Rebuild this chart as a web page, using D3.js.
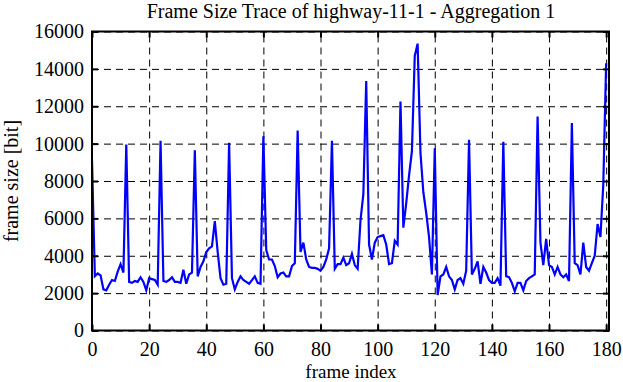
<!DOCTYPE html>
<html>
<head>
<meta charset="utf-8">
<script src="https://cdn.jsdelivr.net/npm/d3@7"></script>
<style>
  html, body { margin: 0; padding: 0; background: #fff; }
  svg { display: block; }
  text { font-family: "Liberation Serif", "DejaVu Serif", serif; }
</style>
</head>
<body>
<svg id="chart" width="623" height="382"></svg>
<script>
// ---- data ----
const titleText = "Frame Size Trace of highway-11-1 - Aggregation 1";
const xLabelText = "frame index";
const yLabelText = "frame size [bit]";
const xTicks = [0, 20, 40, 60, 80, 100, 120, 140, 160, 180];
const yTicks = [0, 2000, 4000, 6000, 8000, 10000, 12000, 14000, 16000];
// frame size (bit) per frame index 0..180
const frameSize = [
  9100, 2900, 3050, 2950, 2200, 2150, 2450, 2700, 2650, 3150,
  3550, 3100, 9950, 2600, 2550, 2650, 2600, 2850, 2600, 2150,
  2800, 2750, 2700, 2450, 10150, 2650, 2600, 2700, 2850, 2600,
  2600, 2550, 3250, 2500, 3000, 3100, 9650, 2900, 3400, 3700,
  4200, 4400, 4500, 5850, 4200, 2800, 2450, 2500, 10050, 2800,
  2200, 2600, 2900, 2700, 2600, 2500, 2700, 2900, 2550, 2500,
  10400, 4300, 3800, 3800, 3450, 2850, 3050, 3100, 2900, 2900,
  3450, 3600, 10700, 4200, 4700, 3800, 3400, 3350, 3350, 3300,
  3200, 3400, 3800, 4400, 10150, 3300, 3550, 3550, 3900, 3500,
  3600, 4100, 3500, 3300, 5900, 7300, 13350, 4600, 3800, 4700,
  5000, 5050, 5100, 4600, 3550, 3600, 4800, 4600, 12250, 5500,
  6800, 8300, 9600, 14700, 15350, 9500, 7400, 6300, 5000, 3000,
  9750, 1900, 2900, 3000, 3400, 2900, 2700, 2200, 2700, 2800,
  2500, 3200, 10200, 3000, 3300, 3700, 2500, 3400, 3100, 2700,
  2550, 2550, 2800, 2400, 10100, 2900, 2850, 2550, 2100, 2550,
  2550, 2150, 2650, 2800, 2900, 3000, 11450, 4700, 3500, 4900,
  3500, 3400, 3000, 3400, 3000, 2850, 3000, 2650, 11100, 3600,
  3500, 3000, 4700, 3400, 3200, 3600, 4000, 5700, 5000, 7800,
  14300
];

// ---- layout ----
const L = 92, R = 609, T = 31.5, B = 330.5;
const svg = d3.select("#chart");
const x = d3.scaleLinear().domain([0, 181]).range([L, R]);
const y = d3.scaleLinear().domain([0, 16000]).range([B, T]);
const font = '"Liberation Serif", "DejaVu Serif", serif';

// grid
const gx = svg.append("g").attr("transform", `translate(0,${B})`)
  .call(d3.axisBottom(x).tickValues(xTicks).tickSize(-(B - T)).tickFormat(""));
const gy = svg.append("g").attr("transform", `translate(${L},0)`)
  .call(d3.axisLeft(y).tickValues(yTicks).tickSize(-(R - L)).tickFormat(""));
[gx, gy].forEach(g => {
  g.select(".domain").remove();
  g.selectAll("line").attr("stroke", "#000").attr("stroke-width", 1)
    .attr("stroke-dasharray", "7,5");
});

// data line
const line = d3.line().x((d, i) => x(i)).y(d => y(d));
svg.append("path").datum(frameSize)
  .attr("d", line)
  .attr("fill", "none")
  .attr("stroke", "#0000ff")
  .attr("stroke-width", 2.2)
  .attr("stroke-linejoin", "miter");

// axes with inward ticks
const tk = 6;
const ab = svg.append("g").attr("transform", `translate(0,${B})`)
  .call(d3.axisBottom(x).tickValues(xTicks).tickSize(-tk).tickPadding(11).tickFormat(d3.format("d")));
const at = svg.append("g").attr("transform", `translate(0,${T})`)
  .call(d3.axisTop(x).tickValues(xTicks).tickSize(-tk).tickFormat(""));
const al = svg.append("g").attr("transform", `translate(${L},0)`)
  .call(d3.axisLeft(y).tickValues(yTicks).tickSize(-tk).tickPadding(8).tickFormat(d3.format("d")));
const ar = svg.append("g").attr("transform", `translate(${R},0)`)
  .call(d3.axisRight(y).tickValues(yTicks).tickSize(-tk).tickFormat(""));
[ab, at, al, ar].forEach(g => {
  g.select(".domain").remove();
  g.selectAll("line").attr("stroke", "#000").attr("stroke-width", 2);
  g.selectAll("text").attr("font-family", font).attr("font-size", 20).attr("fill", "#000");
});

// border
svg.append("rect").attr("x", L).attr("y", T).attr("width", R - L).attr("height", B - T)
  .attr("fill", "none").attr("stroke", "#000").attr("stroke-width", 2);

// title and labels
svg.append("text").attr("x", 351).attr("y", 18).attr("text-anchor", "middle")
  .attr("font-family", font).attr("font-size", 20).text(titleText);
svg.append("text").attr("x", 351).attr("y", 377.5).attr("text-anchor", "middle")
  .attr("font-family", font).attr("font-size", 19).text(xLabelText);
svg.append("text").attr("transform", `translate(18,${(T + B) / 2}) rotate(-90)`)
  .attr("text-anchor", "middle")
  .attr("font-family", font).attr("font-size", 20).text(yLabelText);
</script>
</body>
</html>
